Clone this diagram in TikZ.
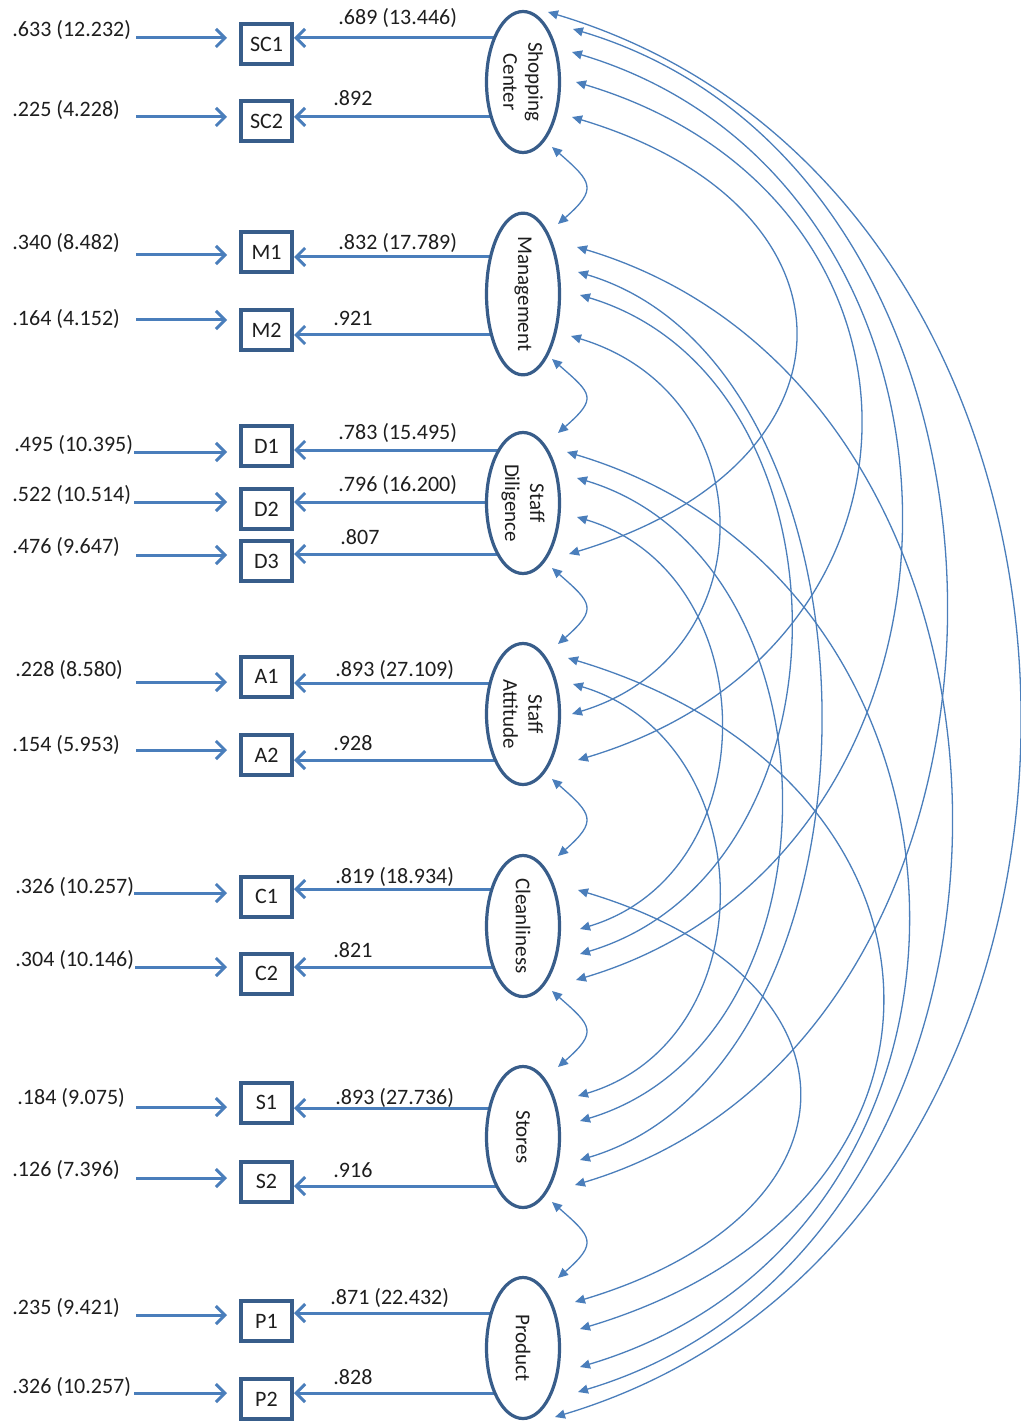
\documentclass[tikz,border=0pt]{standalone}
\usepackage{fontspec}
\setmainfont{Carlito}
\usetikzlibrary{arrows.meta,shapes.geometric,calc}
\definecolor{lineblue}{RGB}{74,126,187}
\definecolor{darkblue}{RGB}{56,93,138}
\definecolor{txt}{RGB}{30,30,30}
\pgfdeclarelayer{bg}
\pgfsetlayers{bg,main}
\newcommand\covarc[4]{\draw[cov] (#1) .. controls ($(#1)+(#3,#4)$) and ($(#2)+(#3,-#4)$) .. (#2);}
\begin{document}
\begin{tikzpicture}[x=0.5pt,y=-0.5pt,
  every node/.style={font=\fontsize{11}{13}\selectfont, text=txt},
  obs/.style={draw=darkblue, line width=2pt, minimum width=25.5pt, minimum height=20pt, inner sep=0pt, fill=white},
  lat/.style={draw=darkblue, line width=1.6pt, ellipse, rotate=-90, minimum width=70.5pt, minimum height=36.5pt, inner sep=0pt, fill=white, align=center, font=\fontsize{10.5}{12.5}\selectfont},
  load/.style={draw=lineblue, line width=1.5pt, -{Straight Barb[length=4.5pt,width=9pt]}},
  err/.style={anchor=west, inner sep=0pt},
  wt/.style={anchor=west, inner sep=0pt},
  cov/.style={draw=lineblue, line width=0.65pt, {Triangle[length=5pt,width=4.5pt]}-{Triangle[length=5pt,width=4.5pt]}},
]
\useasboundingbox (0,0) rectangle (1021,1422);
\begin{pgfonlayer}{bg}
\fill[white] (0,0) rectangle (1021,1422);
\end{pgfonlayer}

% latent variables
\node[lat] (sc) at (523,82) {Shopping\\Center};
\node[lat] (mg) at (523,294) {Management};
\node[lat] (dl) at (523,503) {Staff\\Diligence};
\node[lat] (sa) at (523,714) {Staff\\Attitude};
\node[lat] (cl) at (523,926) {Cleanliness};
\node[lat] (st) at (523,1137) {Stores};
\node[lat] (pr) at (523,1348) {Product};

% observed variables
\node[obs] (sc1) at (266.5,44) {SC1};
\node[obs] (sc2) at (266.5,121.5) {SC2};
\node[obs] (m1) at (266.5,252.5) {M1};
\node[obs] (m2) at (266.5,330) {M2};
\node[obs] (d1) at (266.5,446) {D1};
\node[obs] (d2) at (266.5,509) {D2};
\node[obs] (d3) at (266.5,561) {D3};
\node[obs] (a1) at (266.5,676.5) {A1};
\node[obs] (a2) at (266.5,755) {A2};
\node[obs] (c1) at (266.5,896.5) {C1};
\node[obs] (c2) at (266.5,973.5) {C2};
\node[obs] (s1) at (266.5,1102.5) {S1};
\node[obs] (s2) at (266.5,1181.5) {S2};
\node[obs] (p1) at (266.5,1321) {P1};
\node[obs] (p2) at (266.5,1399) {P2};

% error labels
\node[err] (e1) at (12,30) {.633 (12.232)};
\node[err] (e2) at (12,110) {.225 (4.228)};
\node[err] (e3) at (12,243) {.340 (8.482)};
\node[err] (e4) at (12,319) {.164 (4.152)};
\node[err] (e5) at (14,445) {.495 (10.395)};
\node[err] (e6) at (12,495) {.522 (10.514)};
\node[err] (e7) at (12,547) {.476 (9.647)};
\node[err] (e8) at (15,670) {.228 (8.580)};
\node[err] (e9) at (12,745) {.154 (5.953)};
\node[err] (e10) at (15,887) {.326 (10.257)};
\node[err] (e11) at (15,960) {.304 (10.146)};
\node[err] (e12) at (17,1098) {.184 (9.075)};
\node[err] (e13) at (12,1170) {.126 (7.396)};
\node[err] (e14) at (12,1308) {.235 (9.421)};
\node[err] (e15) at (12,1387) {.326 (10.257)};

% error arrows
\draw[load, shorten >=6pt] (136,38) -- (sc1.west |- 0,38);
\draw[load, shorten >=6pt] (136,117) -- (sc2.west |- 0,117);
\draw[load, shorten >=6pt] (136,255) -- (m1.west |- 0,255);
\draw[load, shorten >=6pt] (136,320) -- (m2.west |- 0,320);
\draw[load, shorten >=6pt] (134,452) -- (d1.west |- 0,452);
\draw[load, shorten >=6pt] (134,502) -- (d2.west |- 0,502);
\draw[load, shorten >=6pt] (136,555) -- (d3.west |- 0,555);
\draw[load, shorten >=6pt] (136,682) -- (a1.west |- 0,682);
\draw[load, shorten >=6pt] (136,750) -- (a2.west |- 0,750);
\draw[load, shorten >=6pt] (134,893) -- (c1.west |- 0,893);
\draw[load, shorten >=6pt] (135,967) -- (c2.west |- 0,967);
\draw[load, shorten >=6pt] (136,1107) -- (s1.west |- 0,1107);
\draw[load, shorten >=6pt] (136,1178) -- (s2.west |- 0,1178);
\draw[load, shorten >=6pt] (136,1315) -- (p1.west |- 0,1315);
\draw[load, shorten >=6pt] (134,1393) -- (p2.west |- 0,1393);

% loadings
\begin{pgfonlayer}{bg}
\draw[load] (sc.center |- 0,38) -- (sc1.east |- 0,38);
\draw[load] (sc.center |- 0,117) -- (sc2.east |- 0,117);
\draw[load] (mg.center |- 0,257) -- (m1.east |- 0,257);
\draw[load] (mg.center |- 0,335) -- (m2.east |- 0,335);
\draw[load] (dl.center |- 0,450) -- (d1.east |- 0,450);
\draw[load] (dl.center |- 0,502) -- (d2.east |- 0,502);
\draw[load] (dl.center |- 0,554) -- (d3.east |- 0,554);
\draw[load] (sa.center |- 0,683) -- (a1.east |- 0,683);
\draw[load] (sa.center |- 0,760) -- (a2.east |- 0,760);
\draw[load] (cl.center |- 0,889) -- (c1.east |- 0,889);
\draw[load] (cl.center |- 0,967) -- (c2.east |- 0,967);
\draw[load] (st.center |- 0,1108) -- (s1.east |- 0,1108);
\draw[load] (st.center |- 0,1186) -- (s2.east |- 0,1186);
\draw[load] (pr.center |- 0,1313) -- (p1.east |- 0,1313);
\draw[load] (pr.center |- 0,1393) -- (p2.east |- 0,1393);
\end{pgfonlayer}

% loading labels
\node[wt] (w1) at (338,18) {.689 (13.446)};
\node[wt] (w2) at (333,98) {.892};
\node[wt] (w3) at (338,243) {.832 (17.789)};
\node[wt] (w4) at (333,318) {.921};
\node[wt] (w5) at (338,433) {.783 (15.495)};
\node[wt] (w6) at (338,485) {.796 (16.200)};
\node[wt] (w7) at (340,537) {.807};
\node[wt] (w8) at (335,670) {.893 (27.109)};
\node[wt] (w9) at (333,743) {.928};
\node[wt] (w10) at (335,877) {.819 (18.934)};
\node[wt] (w11) at (333,950) {.821};
\node[wt] (w12) at (335,1098) {.893 (27.736)};
\node[wt] (w13) at (333,1170) {.916};
\node[wt] (w14) at (330,1298) {.871 (22.432)};
\node[wt] (w15) at (333,1377) {.828};

% covariance end points
\coordinate (scPR) at (548,12);
\coordinate (scST) at (573,29);
\coordinate (scCL) at (572,52);
\coordinate (scSA) at (576,82);
\coordinate (scDL) at (572,117);
\coordinate (mgPR) at (577,247);
\coordinate (mgST) at (578,272);
\coordinate (mgCL) at (580,295);
\coordinate (mgSA) at (571,336);
\coordinate (dlPR) at (567,452);
\coordinate (dlST) at (577,478);
\coordinate (dlCL) at (577,517);
\coordinate (dlSC) at (569,554);
\coordinate (saPR) at (568,658);
\coordinate (saST) at (573,684);
\coordinate (saMG) at (572,714);
\coordinate (saSC) at (578,760);
\coordinate (clPR) at (578,890);
\coordinate (clDL) at (580,929);
\coordinate (clMG) at (580,954);
\coordinate (clSC) at (576,980);
\coordinate (stSA) at (578,1096);
\coordinate (stDL) at (580,1121);
\coordinate (stMG) at (580,1160);
\coordinate (stSC) at (575,1185);
\coordinate (prCL) at (575,1302);
\coordinate (prSA) at (580,1329);
\coordinate (prDL) at (580,1367);
\coordinate (prMG) at (578,1392);
\coordinate (prSC) at (555,1417);
% adjacent end points
\coordinate (scB) at (552,147);
\coordinate (mgT) at (558,224);
\coordinate (mgB) at (552,359);
\coordinate (dlT) at (558,433);
\coordinate (dlB) at (552,568);
\coordinate (saT) at (558,644);
\coordinate (saB) at (552,779);
\coordinate (clT) at (558,856);
\coordinate (clB) at (552,991);
\coordinate (stT) at (558,1067);
\coordinate (stB) at (552,1202);
\coordinate (prT) at (558,1278);

% adjacent covariances
\covarc{scB}{mgT}{40}{35}
\covarc{mgB}{dlT}{40}{35}
\covarc{dlB}{saT}{40}{35}
\covarc{saB}{clT}{40}{35}
\covarc{clB}{stT}{40}{35}
\covarc{stB}{prT}{40}{35}

% long covariances
\covarc{scDL}{dlSC}{299}{90}
\covarc{scSA}{saSC}{377}{113}
\covarc{scCL}{clSC}{435}{130}
\covarc{scST}{stSC}{495}{148}
\covarc{scPR}{prSC}{623}{187}
\covarc{mgSA}{saMG}{195}{59}
\covarc{mgCL}{clMG}{280}{84}
\covarc{mgST}{stMG}{321}{96}
\covarc{mgPR}{prMG}{497}{149}
\covarc{dlCL}{clDL}{189}{57}
\covarc{dlST}{stDL}{269}{81}
\covarc{dlPR}{prDL}{445}{133}
\covarc{saST}{stSA}{190}{57}
\covarc{saPR}{prSA}{410}{123}
\covarc{clPR}{prCL}{296}{89}
\end{tikzpicture}
\end{document}
